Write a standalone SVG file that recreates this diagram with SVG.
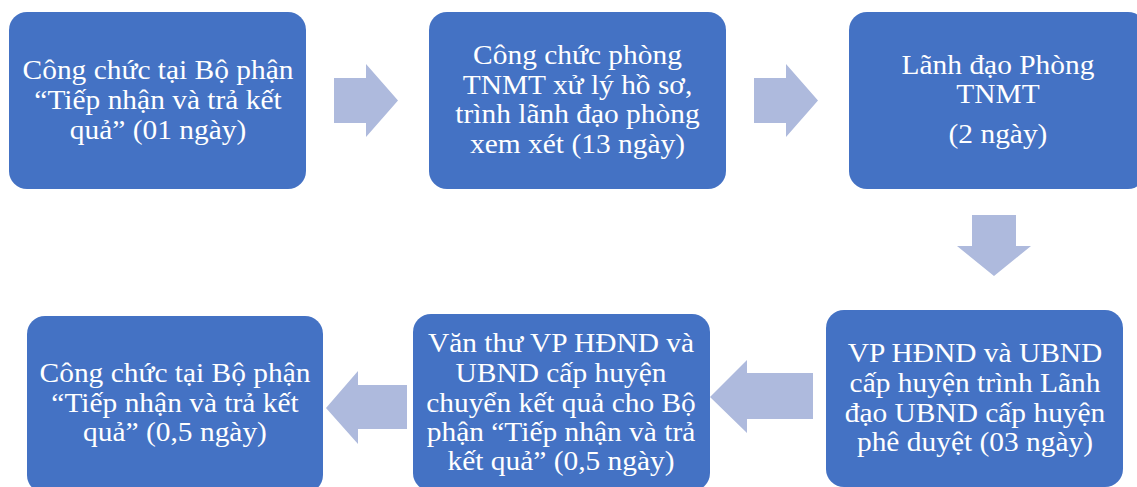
<svg xmlns="http://www.w3.org/2000/svg" width="1137" height="487" viewBox="0 0 1137 487">
<style>
.box{fill:#4472C4}
.arr{fill:#AEBADD}
text{font-family:"Liberation Serif","Times New Roman",serif;font-size:27px;fill:#FFFFFF;text-anchor:middle}
</style>
<rect width="1137" height="487" fill="#FFFFFF"/>
<g id="connectors">
<polygon class="arr" points="334,78 366,78 366,64 398,100.5 366,137 366,123 334,123"/>
<polygon class="arr" points="754,78 786,78 786,64 818,100.5 786,137 786,123 754,123"/>
<polygon class="arr" points="972,215 1016,215 1016,246 1031,246 994,276 957,246 972,246"/>
<polygon class="arr" points="813,373 747,373 747,360 710,397 747,433 747,419 813,419"/>
<polygon class="arr" points="407,385 358,385 358,371 326,408 358,444 358,429 407,429"/>
</g>
<g id="node1">
<rect class="box" x="9" y="12" width="297" height="177" rx="18"/>
<g transform="translate(158,0) scale(1.09,1)">
<text x="0" y="79">Công chức tại Bộ phận</text>
<text x="0" y="109">“Tiếp nhận và trả kết</text>
<text x="0" y="139">quả” (01 ngày)</text>
</g>
</g>
<g id="node2">
<rect class="box" x="429" y="12" width="297" height="177" rx="18"/>
<g transform="translate(577.5,0) scale(1.09,1)">
<text x="0" y="64">Công chức phòng</text>
<text x="0" y="94">TNMT xử lý hồ sơ,</text>
<text x="0" y="123">trình lãnh đạo phòng</text>
<text x="0" y="153">xem xét (13 ngày)</text>
</g>
</g>
<g id="node3">
<rect class="box" x="849" y="12" width="297" height="177" rx="18"/>
<g transform="translate(998,0) scale(1.09,1)">
<text x="0" y="74">Lãnh đạo Phòng</text>
<text x="0" y="103">TNMT</text>
<text x="0" y="143">(2 ngày)</text>
</g>
</g>
<g id="node4">
<rect class="box" x="826" y="310" width="297" height="177" rx="18"/>
<g transform="translate(975,0) scale(1.09,1)">
<text x="0" y="362">VP HĐND và UBND</text>
<text x="0" y="392">cấp huyện trình Lãnh</text>
<text x="0" y="422">đạo UBND cấp huyện</text>
<text x="0" y="451">phê duyệt (03 ngày)</text>
</g>
</g>
<g id="node5">
<rect class="box" x="413" y="314" width="297" height="177" rx="18"/>
<g transform="translate(561,0) scale(1.09,1)">
<text x="0" y="352">Văn thư VP HĐND và</text>
<text x="0" y="382">UBND cấp huyện</text>
<text x="0" y="412">chuyển kết quả cho Bộ</text>
<text x="0" y="441">phận “Tiếp nhận và trả</text>
<text x="0" y="470">kết quả” (0,5 ngày)</text>
</g>
</g>
<g id="node6">
<rect class="box" x="27" y="316" width="296" height="177" rx="18"/>
<g transform="translate(175,0) scale(1.09,1)">
<text x="0" y="382">Công chức tại Bộ phận</text>
<text x="0" y="412">“Tiếp nhận và trả kết</text>
<text x="0" y="441">quả” (0,5 ngày)</text>
</g>
</g>
</svg>
